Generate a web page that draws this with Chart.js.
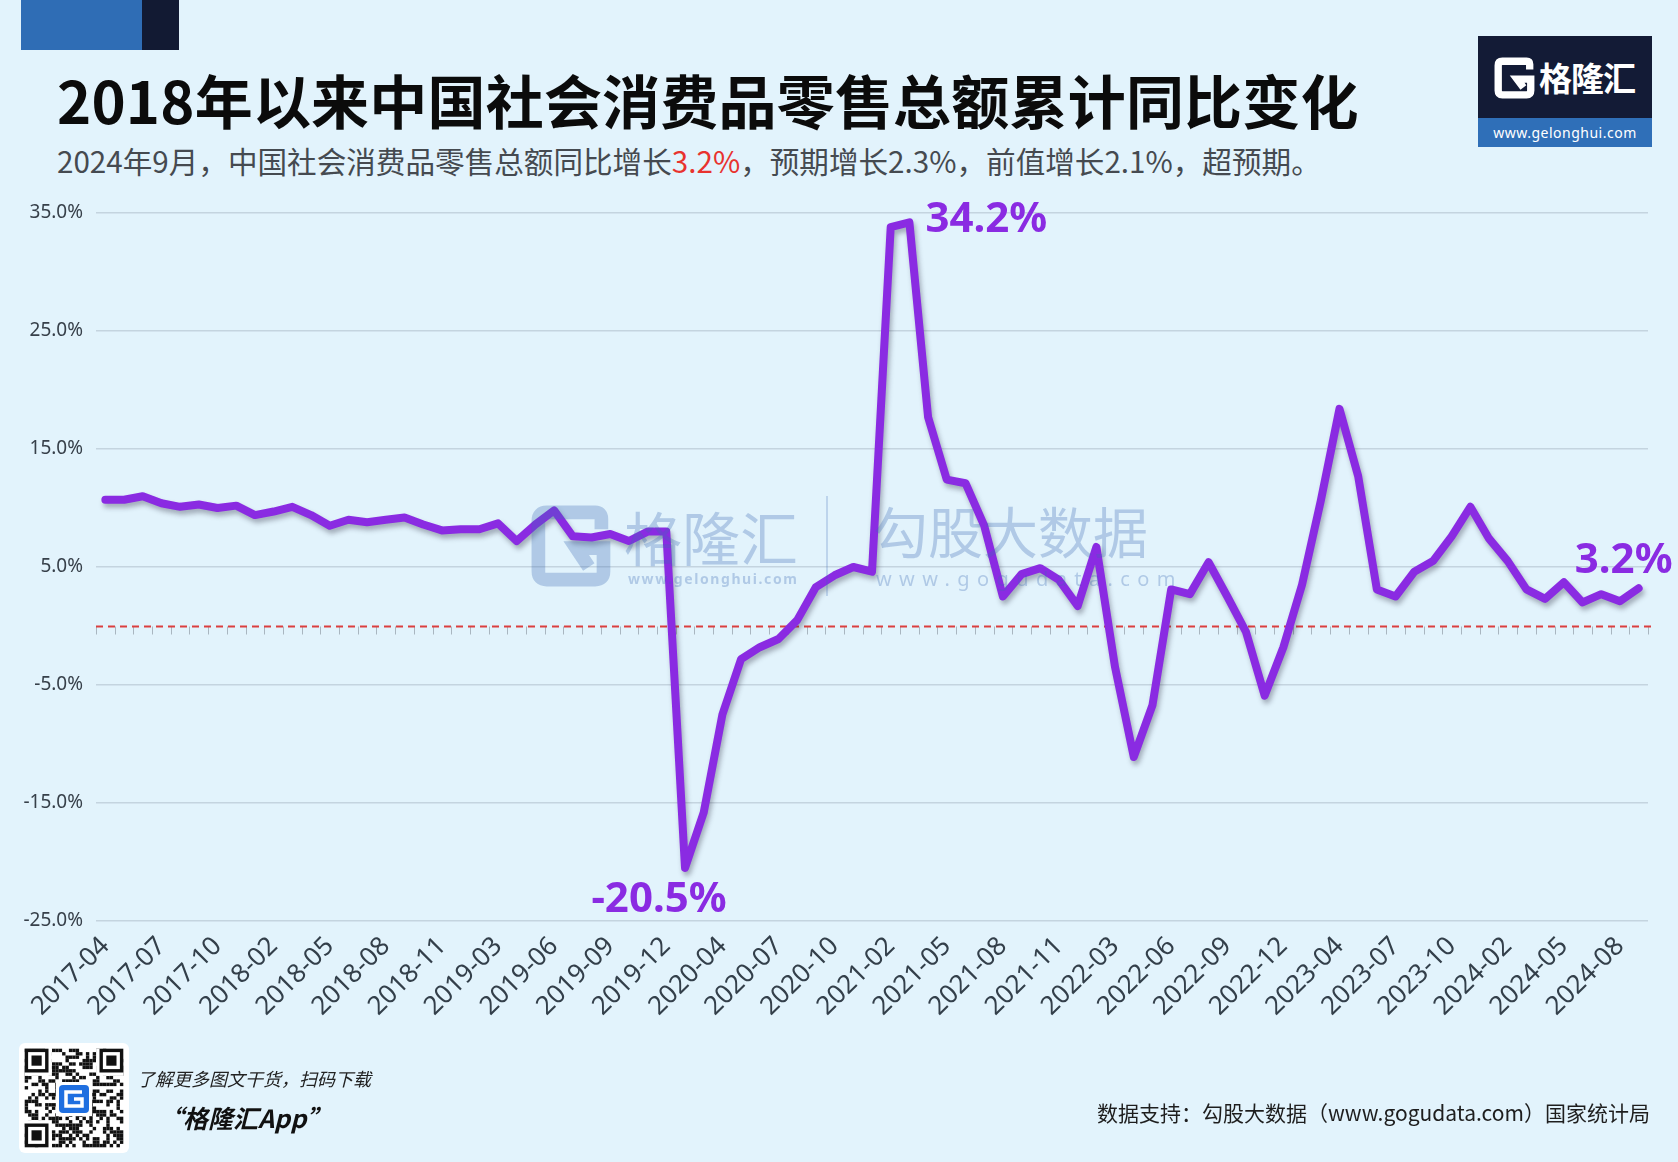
<!DOCTYPE html>
<html><head><meta charset="utf-8">
<script src="https://cdn.jsdelivr.net/npm/chart.js@4.4.1/dist/chart.umd.min.js"></script>
<style>
html,body{margin:0;padding:0;}
body{width:1678px;height:1162px;background:#e2f3fc;position:relative;overflow:hidden;font-family:"Noto Sans CJK SC","Noto Sans",sans-serif;}
#wrap{position:absolute;left:0;top:0;width:1678px;height:1162px;}
.abs{position:absolute;white-space:nowrap;}
#title{left:57px;top:66px;font-size:58px;line-height:66px;font-weight:700;color:#0b0b0b;letter-spacing:0.2px;}
#sub{left:57px;top:143px;font-size:29.6px;line-height:36px;color:#454a50;}
#sub .red{color:#e8322e;}
.wm{color:rgba(60,105,180,0.30);}
#foot1{left:137px;top:1066px;font-size:18px;line-height:24px;font-style:italic;color:#222;}
#foot2{left:158px;top:1101px;font-size:25px;line-height:32px;font-style:italic;font-weight:700;color:#111;}
#src{right:28px;top:1097px;font-size:21px;line-height:30px;color:#1e1e1e;}
</style></head>
<body>
<div class="abs" style="left:21px;top:0;width:121px;height:50px;background:#2f6db5;"></div>
<div class="abs" style="left:142px;top:0;width:37px;height:50px;background:#121a33;"></div>
<div id="title" class="abs">2018年以来中国社会消费品零售总额累计同比变化</div>
<div id="sub" class="abs">2024年9月，中国社会消费品零售总额同比增长<span class="red">3.2%</span>，预期增长2.3%，前值增长2.1%，超预期。</div>

<!-- logo top right -->
<div class="abs" style="left:1478px;top:36px;width:174px;height:82px;background:#131b36;"></div>
<div class="abs" style="left:1478px;top:118px;width:174px;height:29px;background:#2f6fb8;"></div>
<svg class="abs" style="left:1494px;top:57px;" width="42" height="42" viewBox="0 0 80 80">
<path d="M68 24 L68 14 Q68 8 62 8 L16 8 Q8 8 8 16 L8 64 Q8 72 16 72 L62 72 Q70 72 70 64 L70 42 L44 42 L56 58" fill="none" stroke="#ffffff" stroke-width="14" stroke-linejoin="miter"/>
</svg>
<div class="abs" style="left:1539px;top:55px;font-size:33px;line-height:44px;color:#fff;font-weight:700;letter-spacing:-1px;">格隆汇</div>
<div class="abs" style="left:1478px;top:118px;width:174px;text-align:center;font-size:14px;line-height:29px;color:#fff;letter-spacing:0.5px;font-family:'Noto Sans',sans-serif;">www.gelonghui.com</div>

<div id="wrap"><canvas id="c"></canvas></div>

<!-- watermark -->
<svg class="abs" style="left:530px;top:504px;" width="84" height="84" viewBox="0 0 80 80">
<path d="M68 24 L68 14 Q68 8 62 8 L16 8 Q8 8 8 16 L8 64 Q8 72 16 72 L62 72 Q70 72 70 64 L70 42 L44 42 L56 60" fill="none" stroke="rgba(60,105,180,0.30)" stroke-width="13"/>
</svg>
<div class="abs wm" style="left:624px;top:498px;font-size:58px;line-height:76px;">格隆汇</div>
<div class="abs wm" style="left:628px;top:570px;font-size:14px;line-height:18px;font-weight:700;letter-spacing:1.6px;font-family:'Noto Sans',sans-serif;">www.gelonghui.com</div>
<div class="abs" style="left:826px;top:496px;width:2px;height:100px;background:rgba(60,105,180,0.22);"></div>
<div class="abs wm" style="left:873px;top:492px;font-size:55px;line-height:74px;">勾股大数据</div>
<div class="abs wm" style="left:876px;top:566px;font-size:20px;line-height:26px;letter-spacing:7.4px;font-family:'Noto Sans',sans-serif;">www.gogudata.com</div>

<!-- footer -->
<canvas id="qr" class="abs" style="left:19px;top:1043px;" width="110" height="110"></canvas>
<div id="foot1" class="abs">了解更多图文干货，扫码下载</div>
<div id="foot2" class="abs">“格隆汇App”</div>
<div id="src" class="abs">数据支持：勾股大数据（www.gogudata.com）国家统计局</div>

<script>
const months = [
 "2017-04","2017-05","2017-06","2017-07","2017-08","2017-09","2017-10","2017-11","2017-12",
 "2018-02","2018-03","2018-04","2018-05","2018-06","2018-07","2018-08","2018-09","2018-10","2018-11","2018-12",
 "2019-02","2019-03","2019-04","2019-05","2019-06","2019-07","2019-08","2019-09","2019-10","2019-11","2019-12",
 "2020-02","2020-03","2020-04","2020-05","2020-06","2020-07","2020-08","2020-09","2020-10","2020-11","2020-12",
 "2021-02","2021-03","2021-04","2021-05","2021-06","2021-07","2021-08","2021-09","2021-10","2021-11","2021-12",
 "2022-02","2022-03","2022-04","2022-05","2022-06","2022-07","2022-08","2022-09","2022-10","2022-11","2022-12",
 "2023-02","2023-03","2023-04","2023-05","2023-06","2023-07","2023-08","2023-09","2023-10","2023-11","2023-12",
 "2024-02","2024-03","2024-04","2024-05","2024-06","2024-07","2024-08","2024-09"
];
const retailYoY = [
 10.7,10.7,11.0,10.4,10.1,10.3,10.0,10.2,9.4,
 9.7,10.1,9.4,8.5,9.0,8.8,9.0,9.2,8.6,8.1,8.2,
 8.2,8.7,7.2,8.6,9.8,7.6,7.5,7.8,7.2,8.0,8.0,
 -20.5,-15.8,-7.5,-2.8,-1.8,-1.1,0.5,3.3,4.3,5.0,4.6,
 33.8,34.2,17.7,12.4,12.1,8.5,2.5,4.4,4.9,3.9,1.7,
 6.7,-3.5,-11.1,-6.7,3.1,2.7,5.4,2.5,-0.5,-5.9,-1.8,
 3.5,10.6,18.4,12.7,3.1,2.5,4.6,5.5,7.6,10.1,7.4,
 5.5,3.1,2.3,3.7,2.0,2.7,2.1,3.2
];
const yMin = -25, yMax = 35, yStep = 10;
const labelEvery = 3;

const LINE = '#8a2be2';

const zeroLinePlugin = {
  id: 'zeroLine',
  beforeDatasetsDraw(chart) {
    const {ctx, chartArea, scales:{x, y}} = chart;
    const y0 = Math.round(y.getPixelForValue(0)) + 0.5;
    const step = x.getPixelForValue(1) - x.getPixelForValue(0);
    ctx.save();
    ctx.strokeStyle = '#a9b6c0';
    ctx.lineWidth = 1;
    for (let i = 0; i <= months.length; i++) {
      const bx = Math.round(x.getPixelForValue(i) - step / 2) + 0.5;
      ctx.beginPath(); ctx.moveTo(bx, y0); ctx.lineTo(bx, y0 + 8); ctx.stroke();
    }
    ctx.strokeStyle = '#db3f3f';
    ctx.lineWidth = 2;
    ctx.setLineDash([7, 5]);
    ctx.beginPath(); ctx.moveTo(chartArea.left, y0); ctx.lineTo(chartArea.right + 7, y0); ctx.stroke();
    ctx.restore();
  }
};

const shadowPlugin = {
  id: 'lineShadow',
  beforeDatasetDraw(chart) {
    const ctx = chart.ctx;
    ctx.save();
    ctx.shadowColor = 'rgba(40,40,60,0.35)';
    ctx.shadowBlur = 5;
    ctx.shadowOffsetX = 2;
    ctx.shadowOffsetY = 4;
  },
  afterDatasetDraw(chart) { chart.ctx.restore(); }
};

const calloutPlugin = {
  id: 'callouts',
  afterDatasetsDraw(chart) {
    const {ctx, scales:{x, y}} = chart;
    let maxI = 0, minI = 0;
    retailYoY.forEach((v, i) => { if (v > retailYoY[maxI]) maxI = i; if (v < retailYoY[minI]) minI = i; });
    const lastI = retailYoY.length - 1;
    const fmt = v => v.toFixed(1) + '%';
    ctx.save();
    ctx.fillStyle = LINE;
    ctx.font = 'bold 42px "Noto Sans", sans-serif';
    ctx.textBaseline = 'middle';
    ctx.textAlign = 'left';
    ctx.fillText(fmt(retailYoY[maxI]), x.getPixelForValue(maxI) + 16, y.getPixelForValue(retailYoY[maxI]) - 2);
    ctx.textAlign = 'center';
    ctx.fillText(fmt(retailYoY[minI]), x.getPixelForValue(minI) - 26, y.getPixelForValue(retailYoY[minI]) + 32);
    ctx.fillText(fmt(retailYoY[lastI]), x.getPixelForValue(lastI) - 15, y.getPixelForValue(retailYoY[lastI]) - 27);
    ctx.restore();
  }
};

new Chart(document.getElementById('c'), {
  type: 'line',
  data: {
    labels: months,
    datasets: [{
      data: retailYoY,
      borderColor: LINE,
      borderWidth: 8,
      pointRadius: 0,
      pointHoverRadius: 0,
      tension: 0,
      fill: false,
      borderCapStyle: 'round',
      borderJoinStyle: 'round'
    }]
  },
  options: {
    responsive: true,
    maintainAspectRatio: false,
    animation: false,
    events: [],
    layout: { padding: { left: 0, right: 30, top: 213, bottom: 101 } },
    plugins: { legend: { display: false }, tooltip: { enabled: false } },
    scales: {
      x: {
        offset: true,
        grid: { display: false, drawTicks: false },
        border: { display: false },
        afterFit(scale) { scale.height = 140; },
        ticks: {
          autoSkip: false,
          minRotation: 45,
          maxRotation: 45,
          padding: 10,
          color: '#333f4a',
          font: { family: '"Noto Sans", sans-serif', size: 26 },
          callback: (v, i) => (i % labelEvery === 0 ? months[i] : '')
        }
      },
      y: {
        min: yMin, max: yMax,
        afterFit(scale) { scale.width = 96; },
        grid: { color: '#c4d4df', lineWidth: 1.5, drawTicks: false },
        border: { display: false },
        ticks: {
          stepSize: yStep,
          padding: 13,
          color: '#37404a',
          font: { family: '"Noto Sans", sans-serif', size: 19 },
          callback: v => v.toFixed(1) + '%'
        }
      }
    }
  },
  plugins: [zeroLinePlugin, shadowPlugin, calloutPlugin]
});

// decorative QR-like badge
(function(){
  const q = document.getElementById('qr').getContext('2d');
  q.fillStyle = '#fff';
  q.beginPath(); q.roundRect(0,0,110,110,6); q.fill();
  const n = 29, cell = 3.4, off = 5.7;
  let s = 12345;
  const nxt = () => { s = (s * 1103515245 + 12345) & 0x7fffffff; return s; };
  q.fillStyle = '#111';
  for (let r = 0; r < n; r++) for (let c = 0; c < n; c++) {
    if (nxt() % 100 < 48) q.fillRect(off + c*cell, off + r*cell, cell, cell);
  }
  const finder = (cx, cy) => {
    q.fillStyle = '#111'; q.fillRect(off+cx*cell, off+cy*cell, 7*cell, 7*cell);
    q.fillStyle = '#fff'; q.fillRect(off+(cx+1)*cell, off+(cy+1)*cell, 5*cell, 5*cell);
    q.fillStyle = '#111'; q.fillRect(off+(cx+2)*cell, off+(cy+2)*cell, 3*cell, 3*cell);
  };
  q.fillStyle = '#fff';
  q.fillRect(off, off, 8*cell, 8*cell); q.fillRect(off+21*cell, off, 8*cell, 8*cell); q.fillRect(off, off+21*cell, 8*cell, 8*cell);
  finder(0,0); finder(22,0); finder(0,22);
  q.fillStyle = '#fff'; q.fillRect(37, 39, 36, 34);
  q.fillStyle = '#1f6fe0'; q.beginPath(); q.roundRect(40, 42, 30, 28, 4); q.fill();
  q.strokeStyle = '#fff'; q.lineWidth = 3.5;
  q.beginPath(); q.moveTo(63,49); q.lineTo(47,49); q.lineTo(47,63); q.lineTo(63,63); q.lineTo(63,56); q.lineTo(55,56); q.stroke();
})();
</script>
</body></html>
